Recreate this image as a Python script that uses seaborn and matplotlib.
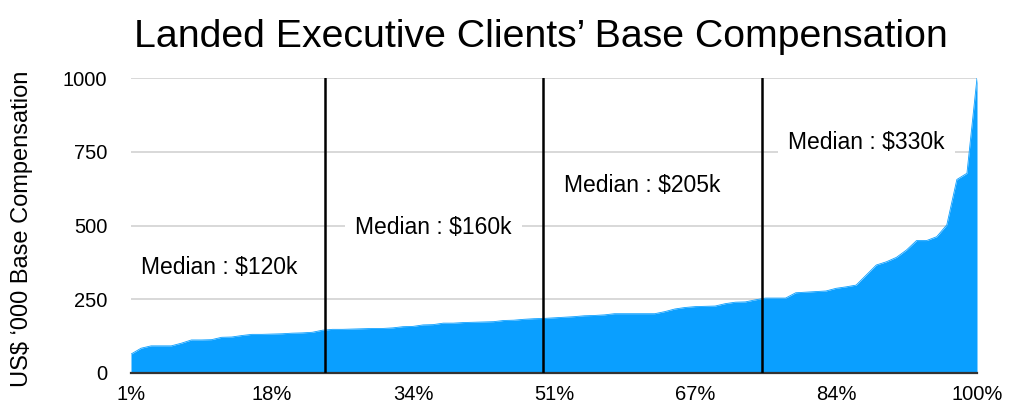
import numpy as np
import matplotlib
matplotlib.use("Agg")
import matplotlib.pyplot as plt
import seaborn as sns

# base compensation (US$ '000) per client, sorted, 85 clients
comp = [64, 84, 92, 92, 92, 101, 112, 112, 113, 121,
        122, 127, 131, 131, 132, 133, 135, 136, 138, 145,
        148, 148, 149, 150, 151, 151, 153, 157, 158, 163,
        164, 169, 169, 171, 172, 173, 174, 178, 179, 182,
        184, 185, 187, 189, 191, 194, 195, 197, 201, 201,
        201, 201, 201, 208, 217, 222, 225, 226, 227, 235,
        240, 241, 248, 254, 254, 254, 272, 274, 276, 278,
        287, 292, 298, 332, 366, 377, 392, 417, 449, 449,
        462, 502, 656, 677, 1000]

xtick_labels = ["1%", "18%", "34%", "51%", "67%", "84%", "100%"]
yticks = [0, 250, 500, 750, 1000]

# quartile dividers (client index) and median labels
dividers = [19.25, 40.95, 62.7]
median_text = ["Median : $120k", "Median : $160k", "Median : $205k", "Median : $330k"]
median_x = [8.75, 30.0, 50.75, 73.0]
median_y = [356, 492, 637, 783]

BLUE = "#0a9fff"

sns.set_style("white")
plt.rcParams["font.family"] = ["Liberation Sans", "DejaVu Sans"]
plt.rcParams["text.color"] = "black"
plt.rcParams["xtick.color"] = "black"
plt.rcParams["ytick.color"] = "black"

fig = plt.figure(figsize=(10.24, 4.17), dpi=100)
ax = fig.add_axes([131 / 1024, 1 - 373 / 417, 846 / 1024, 295 / 417])

x = np.arange(len(comp))
ax.fill_between(x, comp, color=BLUE, lw=0, zorder=2)
sns.lineplot(x=x, y=comp, ax=ax, color=BLUE, lw=0.6, zorder=2)

for d in dividers:
    ax.plot([d, d], [0, 1000], color="black", lw=1.8, zorder=3)

for t, tx, ty in zip(median_text, median_x, median_y):
    ax.text(tx, ty, t, ha="center", va="center", fontsize=16.5, zorder=4,
            bbox=dict(boxstyle="square,pad=0.45", fc="white", ec="none"))

ax.set_xlim(0, len(comp) - 1)
ax.set_ylim(0, 1000)
ax.set_xticks(np.arange(0, len(comp), 14))
ax.set_xticklabels(xtick_labels)
ax.set_yticks(yticks)
ax.yaxis.grid(True, color="#d6d6d6", lw=1.3)
ax.set_axisbelow(True)
ax.tick_params(axis="both", length=0, labelsize=14.5)
ax.tick_params(axis="y", pad=17)
ax.tick_params(axis="x", pad=9)
for s in ["top", "right", "left"]:
    ax.spines[s].set_visible(False)
ax.spines["bottom"].set_color("#333333")
ax.spines["bottom"].set_linewidth(1.6)
ax.set_xlabel("")
ax.set_ylabel("")

fig.text(0.528, 0.912, "Landed Executive Clients\u2019 Base Compensation",
         ha="center", va="center", fontsize=28.3)
fig.text(22 / 1024, 0.452, "US$ \u2018000 Base Compensation", rotation=90,
         ha="center", va="center", fontsize=17)

fig.savefig("out.png", dpi=100)
